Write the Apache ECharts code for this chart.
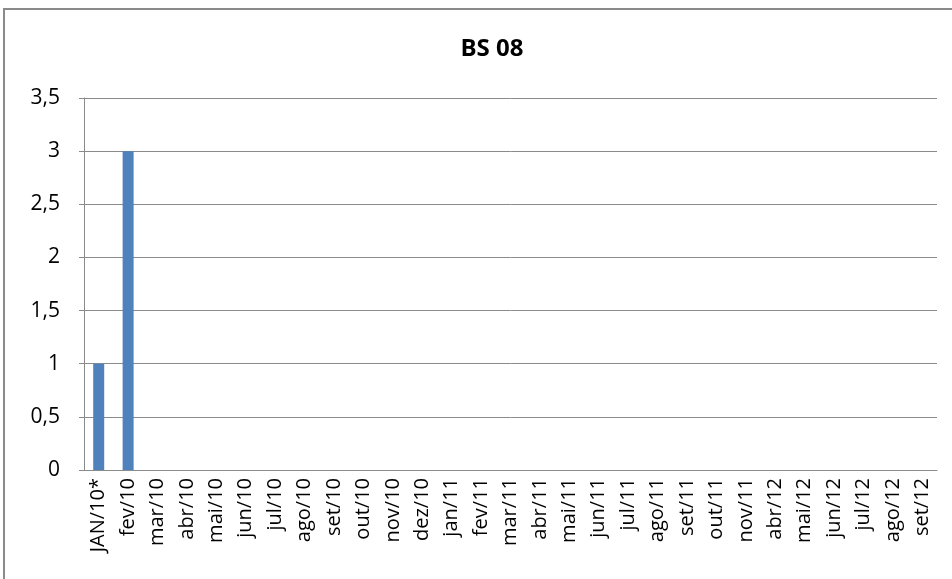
<!DOCTYPE html>
<html lang="pt">
  <head>
    <meta charset="UTF-8" />
    <title>BS 08</title>
    <style>
      html, body { margin: 0; padding: 0; background: #fff; }
      #chart { width: 952px; height: 579px; }
    </style>
    <script src="https://cdn.jsdelivr.net/npm/echarts@6/dist/echarts.min.js"></script>
  </head>
  <body>
    <div id="chart"></div>
    <script>
      const months = [
        "JAN/10*", "fev/10", "mar/10", "abr/10", "mai/10", "jun/10", "jul/10",
        "ago/10", "set/10", "out/10", "nov/10", "dez/10", "jan/11", "fev/11",
        "mar/11", "abr/11", "mai/11", "jun/11", "jul/11", "ago/11", "set/11",
        "out/11", "nov/11", "abr/12", "mai/12", "jun/12", "jul/12", "ago/12", "set/12"
      ];
      const values = [1, 3, 0, 0, 0, 0, 0, 0, 0, 0, 0, 0, 0, 0, 0, 0, 0, 0, 0, 0, 0, 0, 0, 0, 0, 0, 0, 0, 0];

      const chart = echarts.init(document.getElementById("chart"));
      const font = "'Open Sans', sans-serif";
      chart.setOption({
        animation: false,
        title: {
          text: "BS 08",
          left: 487,
          top: 32,
          textAlign: "center",
          textStyle: { fontFamily: font, fontSize: 24, fontWeight: "bold", color: "#000" }
        },
        // outer chart border (only top and left show in the picture)
        graphic: [{
          type: "rect",
          shape: { x: 4, y: 9, width: 1000, height: 700 },
          style: { fill: "none", stroke: "#8a8a8a", lineWidth: 2 },
          silent: true
        }],
        grid: { left: 84, right: 15, top: 98, bottom: 109 },
        xAxis: {
          type: "category",
          data: months,
          axisLine: { lineStyle: { color: "#8a8a8a" } },
          axisTick: { show: false },
          axisLabel: {
            interval: 0,
            rotate: 90,
            margin: 8,
            fontFamily: font,
            fontSize: 20,
            color: "#000"
          }
        },
        yAxis: {
          type: "value",
          min: 0,
          max: 3.5,
          interval: 0.5,
          axisLine: { show: true, lineStyle: { color: "#8a8a8a" } },
          axisTick: { show: true, length: 5, lineStyle: { color: "#8a8a8a" } },
          splitLine: { lineStyle: { color: "#8a8a8a" } },
          axisLabel: {
            margin: 24,
            fontFamily: font,
            fontSize: 21,
            color: "#000",
            formatter: v => String(v).replace(".", ",")
          }
        },
        series: [{
          type: "bar",
          data: values,
          barWidth: 11,
          itemStyle: { color: "#4f81bd" }
        }]
      });
    </script>
  </body>
</html>
